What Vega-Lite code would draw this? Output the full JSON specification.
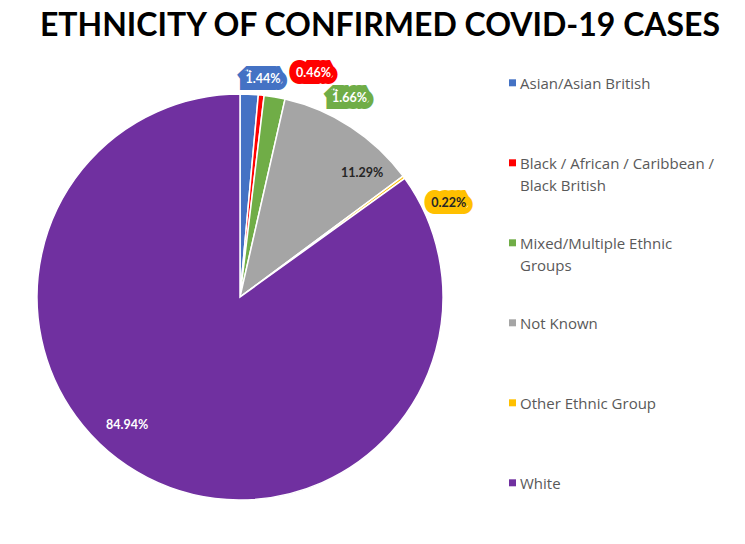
{
  "$schema": "https://vega.github.io/schema/vega-lite/v6.json",
  "width": 480,
  "height": 494,
  "autosize": {"type": "none"},
  "padding": {"left": 0, "top": 50, "right": 265, "bottom": 0},
  "background": "white",
  "title": {
    "text": "ETHNICITY OF CONFIRMED COVID-19 CASES",
    "font": "Lato",
    "fontSize": 32,
    "fontWeight": "bold",
    "color": "#000000",
    "anchor": "middle",
    "dx": 140,
    "offset": 7
  },
  "config": {"view": {"stroke": null}, "style": {"guide-label": {"lineHeight": 22}}},
  "data": {
    "values": [
      {"Ethnicity": "Asian/Asian British", "Share": 0.0144},
      {"Ethnicity": "Black / African / Caribbean / Black British", "Share": 0.0046},
      {"Ethnicity": "Mixed/Multiple Ethnic Groups", "Share": 0.0166},
      {"Ethnicity": "Not Known", "Share": 0.1129},
      {"Ethnicity": "Other Ethnic Group", "Share": 0.0022},
      {"Ethnicity": "White", "Share": 0.8494}
    ]
  },
  "encoding": {
    "theta": {"field": "Share", "type": "quantitative", "stack": true},
    "order": {"field": "Ethnicity", "type": "ordinal", "sort": "ascending"}
  },
  "layer": [
    {
      "mark": {"type": "arc", "radius": 203, "stroke": "white", "strokeWidth": 1.5},
      "encoding": {
        "color": {
          "field": "Ethnicity",
          "type": "nominal",
          "scale": {
            "domain": ["Asian/Asian British", "Black / African / Caribbean / Black British", "Mixed/Multiple Ethnic Groups", "Not Known", "Other Ethnic Group", "White"],
            "range": ["#4472C4", "#FF0000", "#70AD47", "#A5A5A5", "#FFC000", "#7030A0"]
          },
          "legend": {
            "orient": "none",
            "legendX": 505,
            "legendY": 26,
            "title": null,
            "direction": "vertical",
            "symbolType": "M-1,-1.2H1V0.8H-1Z",
            "symbolSize": 49,
            "symbolStrokeWidth": 0,
            "labelFont": "Open Sans",
            "labelFontSize": 15,
            "labelColor": "#595959",
            "labelLimit": 300,
            "labelOffset": 0,
            "rowPadding": 42,
            "labelExpr": "datum.label == 'Black / African / Caribbean / Black British' ? ['Black / African / Caribbean /', 'Black British'] : datum.label == 'Mixed/Multiple Ethnic Groups' ? ['Mixed/Multiple Ethnic', 'Groups'] : [datum.label, ' ']"
          }
        }
      }
    },
    {
      "mark": {"type": "text", "radius": 220, "dx": 13, "dy": 2, "font": "Lato", "fontSize": 12.5, "fontWeight": "bold", "fill": "#4472C4", "stroke": "#4472C4", "strokeWidth": 14, "strokeJoin": "miter", "strokeMiterLimit": 2},
      "encoding": {
        "detail": {"field": "Ethnicity"},
        "text": {"condition": {"test": "datum.Ethnicity === 'Asian/Asian British'", "field": "Share", "type": "quantitative", "format": ".2%"}, "value": ""}
      }
    },
    {
      "mark": {"type": "text", "radius": 220, "dx": 13, "dy": 2, "font": "Lato", "fontSize": 12.5, "fontWeight": "bold", "fill": "white"},
      "encoding": {
        "detail": {"field": "Ethnicity"},
        "text": {"condition": {"test": "datum.Ethnicity === 'Asian/Asian British'", "field": "Share", "type": "quantitative", "format": ".2%"}, "value": ""}
      }
    },
    {
      "mark": {"type": "text", "radius": 225, "dx": 50, "font": "Lato", "fontSize": 12.5, "fontWeight": "bold", "fill": "#FF0000", "stroke": "#FF0000", "strokeWidth": 14, "strokeJoin": "miter", "strokeMiterLimit": 2},
      "encoding": {
        "detail": {"field": "Ethnicity"},
        "text": {"condition": {"test": "datum.Ethnicity === 'Black / African / Caribbean / Black British'", "field": "Share", "type": "quantitative", "format": ".2%"}, "value": ""}
      }
    },
    {
      "mark": {"type": "text", "radius": 225, "dx": 50, "font": "Lato", "fontSize": 12.5, "fontWeight": "bold", "fill": "white"},
      "encoding": {
        "detail": {"field": "Ethnicity"},
        "text": {"condition": {"test": "datum.Ethnicity === 'Black / African / Caribbean / Black British'", "field": "Share", "type": "quantitative", "format": ".2%"}, "value": ""}
      }
    },
    {
      "mark": {"type": "text", "radius": 220, "dx": 72, "dy": 18, "font": "Lato", "fontSize": 12.5, "fontWeight": "bold", "fill": "#70AD47", "stroke": "#70AD47", "strokeWidth": 14, "strokeJoin": "miter", "strokeMiterLimit": 2},
      "encoding": {
        "detail": {"field": "Ethnicity"},
        "text": {"condition": {"test": "datum.Ethnicity === 'Mixed/Multiple Ethnic Groups'", "field": "Share", "type": "quantitative", "format": ".2%"}, "value": ""}
      }
    },
    {
      "mark": {"type": "text", "radius": 220, "dx": 72, "dy": 18, "font": "Lato", "fontSize": 12.5, "fontWeight": "bold", "fill": "white"},
      "encoding": {
        "detail": {"field": "Ethnicity"},
        "text": {"condition": {"test": "datum.Ethnicity === 'Mixed/Multiple Ethnic Groups'", "field": "Share", "type": "quantitative", "format": ".2%"}, "value": ""}
      }
    },
    {
      "mark": {"type": "text", "radius": 174, "dx": 27, "dy": 22, "font": "Lato", "fontSize": 12.5, "fontWeight": "bold", "fill": "#262626"},
      "encoding": {
        "detail": {"field": "Ethnicity"},
        "text": {"condition": {"test": "datum.Ethnicity === 'Not Known'", "field": "Share", "type": "quantitative", "format": ".2%"}, "value": ""}
      }
    },
    {
      "mark": {"type": "text", "radius": 230, "dx": 23, "dy": 42, "font": "Lato", "fontSize": 12.5, "fontWeight": "bold", "fill": "#FFC000", "stroke": "#FFC000", "strokeWidth": 14, "strokeJoin": "miter", "strokeMiterLimit": 2},
      "encoding": {
        "detail": {"field": "Ethnicity"},
        "text": {"condition": {"test": "datum.Ethnicity === 'Other Ethnic Group'", "field": "Share", "type": "quantitative", "format": ".2%"}, "value": ""}
      }
    },
    {
      "mark": {"type": "text", "radius": 230, "dx": 23, "dy": 42, "font": "Lato", "fontSize": 12.5, "fontWeight": "bold", "fill": "#262626"},
      "encoding": {
        "detail": {"field": "Ethnicity"},
        "text": {"condition": {"test": "datum.Ethnicity === 'Other Ethnic Group'", "field": "Share", "type": "quantitative", "format": ".2%"}, "value": ""}
      }
    },
    {
      "mark": {"type": "text", "radius": 171, "dx": -35, "dy": -24, "font": "Lato", "fontSize": 12.5, "fontWeight": "bold", "fill": "white"},
      "encoding": {
        "detail": {"field": "Ethnicity"},
        "text": {"condition": {"test": "datum.Ethnicity === 'White'", "field": "Share", "type": "quantitative", "format": ".2%"}, "value": ""}
      }
    }
  ]
}
